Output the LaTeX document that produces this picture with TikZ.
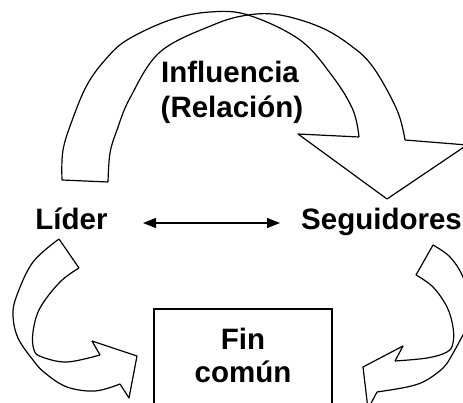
\documentclass[tikz,border=0pt]{standalone}
\usepackage{fontspec}
\setmainfont{Liberation Sans}
\usetikzlibrary{arrows.meta}
\tikzset{
  band/.style={draw=black, line width=1.2pt, line join=round},
  lbl/.style={font=\fontsize{29.5}{33}\selectfont\bfseries, inner sep=0pt, anchor=base},
  dbl/.style={line width=1.3pt, {Triangle[length=13pt,width=10pt]}-{Triangle[length=13pt,width=10pt]}},
  goal/.style={draw=black, line width=1.2pt}
}
\begin{document}
\begin{tikzpicture}[x=1pt,y=-1pt]
\useasboundingbox (0,0) rectangle (463,403);
\fill[white] (0,0) rectangle (463,403);
\clip (0,0) rectangle (463,403);

% top curved arrow (Influencia)
\draw[band] plot[smooth, tension=0.6] coordinates {(62,180) (63,150) (73,118) (87,85) (105,60) (127,40) (170,20) (210,12) (248,15) (300,40) (333,77) (353,110) (359,137)};
\draw[band] plot[smooth, tension=0.6] coordinates {(108,182) (110,153) (117,130) (130,98) (160,52) (213,25) (248,15) (280,15) (320,27) (350,45) (373,67) (397,110) (405,140)};
\draw[band] (62,180) -- (108,182);
\draw[band] (359,137) -- (298,134) -- (387,199) -- (467,145) -- (405,140);

% left curved arrow
\draw[band] plot[smooth, tension=0.6] coordinates {(59,239) (33,262) (17,295) (13,315) (18,338) (33,360) (45,373) (67,387) (95,391) (120,384)};
\draw[band] plot[smooth, tension=0.6] coordinates {(79,268) (60,282) (40,308) (33,332) (34,350) (42,357) (67,362) (100,355)};
\draw[band] (59,239) -- (79,268);
\draw[band] (100,355) -- (92,341) -- (137,356) -- (129,398) -- (120,384);

% right curved arrow
\draw[band] plot[smooth, tension=0.6] coordinates {(433,245) (450,257) (463,277) (471,305) (469,325) (463,335) (452,355) (443,368) (425,381) (407,387) (377,392)};
\draw[band] plot[smooth, tension=0.6] coordinates {(416,275) (433,287) (447,307) (453,327) (453,343) (447,352) (427,358) (395,361)};
\draw[band] (433,245) -- (416,275);
\draw[band] (395,361) -- (403,346) -- (363,367) -- (368,409) -- (377,392);

% labels
\node[lbl] (infl) at (230,83) {Influencia};
\node[lbl] (rel) at (232,118) {(Relación)};
\node[lbl] (lider) at (71.5,230) {Líder};
\node[lbl] (seg) at (381.5,230) {Seguidores};

% double arrow
\coordinate (la) at (143,223);
\coordinate (ra) at (280,223);
\draw[dbl] (la) -- (ra);

% goal box
\draw[goal] (154,420) -- (154,309) -- (332,309) -- (332,420);
\node[lbl] (fin) at (243,349) {Fin};
\node[lbl] (comun) at (243,382) {común};
\end{tikzpicture}
\end{document}
